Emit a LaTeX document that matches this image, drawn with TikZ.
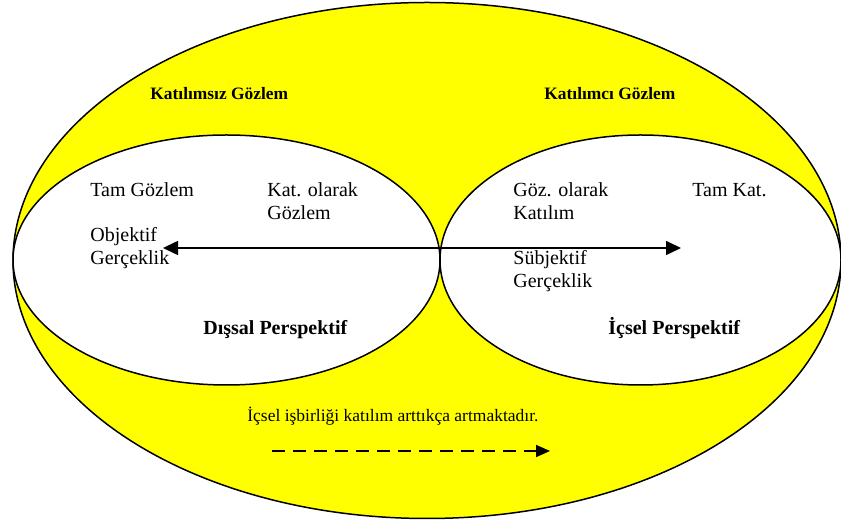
\documentclass[tikz,border=0pt]{standalone}
\usepackage{fontspec}
\setmainfont{Liberation Serif}
\usepackage{tikz}
\usetikzlibrary{shapes.geometric, arrows.meta, positioning}
\definecolor{fillyellow}{RGB}{255,255,0}

\begin{document}
\begin{tikzpicture}[x=0.5pt, y=-0.5pt,
  oval/.style={ellipse, draw=black, line width=0.75pt, inner sep=0pt, fill=#1},
  txt/.style={font=\fontsize{10}{11.5}\selectfont, anchor=base west, align=left, inner sep=0pt},
  head/.style={font=\fontsize{8.7}{10}\selectfont\bfseries, anchor=base west, inner sep=0pt},
  persp/.style={font=\fontsize{10}{12}\selectfont\bfseries, anchor=base west, inner sep=0pt},
  arr/.style={-{Triangle[length=7.5pt, width=7pt]}, line width=0.8pt},
  dasharr/.style={-{Triangle[length=7pt, width=6pt]}, line width=0.9pt, dash pattern=on 6.5pt off 4pt},
]
  \useasboundingbox (0,0) rectangle (841,522);

  % Outer ellipse
  \node[oval=fillyellow, minimum width=414pt, minimum height=258pt] (outer) at (427,260.5) {};
  \node[head] (katsiz) at (150,100) {Katılımsız Gözlem};
  \node[head] (katci) at (544,100) {Katılımcı Gözlem};

  % Inner ellipses
  \node[oval=white, minimum width=213.5pt, minimum height=125pt] (dis) at (226.5,260) {};
  \node[oval=white, minimum width=200.5pt, minimum height=125pt] (ic) at (640.5,260) {};

  % Left side
  \node[txt] (tamgoz) at (90,197) {Tam Gözlem};
  \node[txt] (katgoz) at (267,220) {Kat. olarak\\Gözlem};
  \node[txt] (objektif) at (90,265) {Objektif\\Gerçeklik};
  \node[persp] (disp) at (203,335) {Dışsal Perspektif};

  % Right side
  \node[txt] (gozkat) at (513,220) {Göz. olarak\\Katılım};
  \node[txt] (tamkat) at (692,197) {Tam Kat.};
  \node[txt] (subjektif) at (513,288) {Sübjektif\\Gerçeklik};
  \node[persp] (icp) at (608,335) {İçsel Perspektif};

  % Arrows
  \coordinate (mid) at (440,248);
  \coordinate (objend) at (163,248);
  \coordinate (subend) at (681,248);
  \draw[arr] (mid) -- (objend);
  \draw[arr] (mid) -- (subend);

  % Bottom note
  \node[txt, font=\fontsize{8.75}{10}\selectfont] (note) at (247,422) {İçsel işbirliği katılım arttıkça artmaktadır.};
  \coordinate (dstart) at (272,451);
  \coordinate (dend) at (550,451);
  \draw[dasharr] (dstart) -- (dend);
\end{tikzpicture}
\end{document}
